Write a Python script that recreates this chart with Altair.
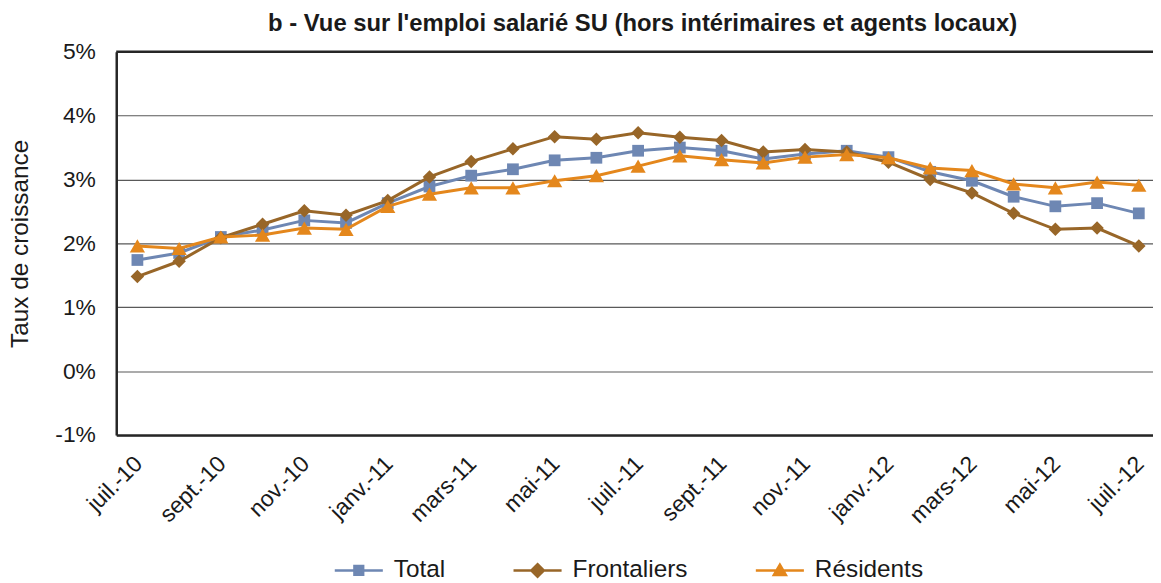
import altair as alt
import pandas as pd

months = ["juil.-10", "août-10", "sept.-10", "oct.-10", "nov.-10", "déc.-10",
          "janv.-11", "févr.-11", "mars-11", "avr.-11", "mai-11", "juin-11",
          "juil.-11", "août-11", "sept.-11", "oct.-11", "nov.-11", "déc.-11",
          "janv.-12", "févr.-12", "mars-12", "avr.-12", "mai-12", "juin-12",
          "juil.-12"]
total = [1.74, 1.85, 2.10, 2.21, 2.36, 2.32, 2.63, 2.89, 3.06, 3.16, 3.30, 3.34,
         3.45, 3.50, 3.45, 3.32, 3.40, 3.45, 3.35, 3.12, 2.98, 2.73, 2.58, 2.63, 2.47]
frontaliers = [1.48, 1.72, 2.09, 2.30, 2.51, 2.44, 2.67, 3.04, 3.28, 3.48, 3.67, 3.63,
               3.73, 3.66, 3.61, 3.43, 3.47, 3.43, 3.27, 3.00, 2.79, 2.47, 2.22, 2.24, 1.96]
residents = [1.96, 1.92, 2.10, 2.13, 2.24, 2.22, 2.58, 2.77, 2.87, 2.87, 2.98, 3.06,
             3.21, 3.37, 3.31, 3.26, 3.35, 3.39, 3.34, 3.18, 3.14, 2.93, 2.87, 2.96, 2.91]

series = ["Total", "Frontaliers", "Résidents"]
colors = ["#6E87B3", "#986628", "#E4871C"]
shapes = ["square", "diamond", "triangle-up"]
sizes = [140, 185, 235]
legend_paths = [
    "M-4.4,0H4.4M-0.8,-0.8H0.8V0.8H-0.8Z",
    "M-4.4,0H4.4M0,-1.15L1.15,0L0,1.15L-1.15,0Z",
    "M-4.4,0H4.4M0,-1.05L1.1,0.85H-1.1Z",
]

rows = []
for name, vals in zip(series, [total, frontaliers, residents]):
    for i, (m, v) in enumerate(zip(months, vals)):
        rows.append({"idx": i, "month": m, "series": name, "value": v})
df = pd.DataFrame(rows)

FONT = "Liberation Sans"
label_array = "[" + ",".join("'" + m + "'" for m in months) + "]"

x_enc = alt.X(
    "idx:Q",
    scale=alt.Scale(domain=[-0.507, 24.34], nice=False, zero=False),
    axis=alt.Axis(
        values=list(range(0, 25, 2)),
        labelExpr=label_array + "[datum.value]",
        labelAngle=315,
        labelAlign="right",
        labelBaseline="middle",
        labelPadding=25,
        labelOffset=1,
        labelFontSize=23,
        labelFont=FONT,
        labelColor="#1a1a1a",
        ticks=False,
        grid=False,
        domainColor="#262626",
        domainWidth=2.5,
        title=None,
        labelOverlap=False,
    ),
)
y_enc = alt.Y(
    "value:Q",
    scale=alt.Scale(domain=[-1, 5], nice=False, zero=False),
    axis=alt.Axis(
        values=[-1, 0, 1, 2, 3, 4, 5],
        labelExpr="datum.value + '%'",
        labelFontSize=23,
        labelFont=FONT,
        labelColor="#1a1a1a",
        labelPadding=21,
        ticks=False,
        grid=True,
        gridColor="#595959",
        gridWidth=1.2,
        domainColor="#262626",
        domainWidth=2.5,
        title="Taux de croissance",
        titleFont=FONT,
        titleFontSize=24.5,
        titleFontWeight="normal",
        titleColor="#1a1a1a",
        titleX=-96,
        titleY=193,
        titleAngle=270,
        titleBaseline="middle",
        titleAlign="center",
    ),
)

base = alt.Chart(df)
layers = []
for name, col, shp, sz in zip(series, colors, shapes, sizes):
    sub = base.transform_filter(alt.datum.series == name)
    layers.append(sub.mark_line(strokeWidth=3, color=col).encode(x=x_enc, y=y_enc))
    layers.append(
        sub.mark_point(filled=True, size=sz, shape=shp, opacity=1, color=col).encode(x=x_enc, y=y_enc)
    )

top_rule = alt.Chart(alt.Data(values=[{}])).mark_rule(color="#262626", strokeWidth=2.5).encode(
    y=alt.datum(5)
)

legend_kw = dict(
    orient="none",
    legendX=232,
    legendY=510,
    direction="horizontal",
    title=None,
    labelFont=FONT,
    labelFontSize=24.5,
    labelColor="#1a1a1a",
    symbolSize=121,
    symbolStrokeWidth=2.5,
    labelOffset=23,
    columnPadding=63,
    padding=0,
)

legend_layer = base.transform_filter("false").mark_point(filled=True, strokeWidth=2.5, opacity=1).encode(
    x=x_enc, y=y_enc,
    color=alt.Color("series:N", scale=alt.Scale(domain=series, range=colors), legend=alt.Legend(**legend_kw)),
    stroke=alt.Stroke("series:N", scale=alt.Scale(domain=series, range=colors), legend=alt.Legend(**legend_kw)),
    shape=alt.Shape("series:N", scale=alt.Scale(domain=series, range=legend_paths), legend=alt.Legend(**legend_kw)),
)

chart = alt.layer(*layers, top_rule, legend_layer).properties(
    width=1044,
    height=386,
    title=alt.TitleParams(
        "b - Vue sur l'emploi salarié SU (hors intérimaires et agents locaux)",
        font=FONT,
        fontSize=24,
        fontWeight="bold",
        color="#1a1a1a",
        anchor="middle",
        dx=8,
        offset=5,
    ),
    autosize=alt.AutoSizeParams(type="none"),
    padding={"left": 109, "top": 42, "right": 0, "bottom": 152},
).configure_view(stroke=None).configure(background="white")

chart.save("out.html", embed_options={"renderer": "svg", "actions": False})
